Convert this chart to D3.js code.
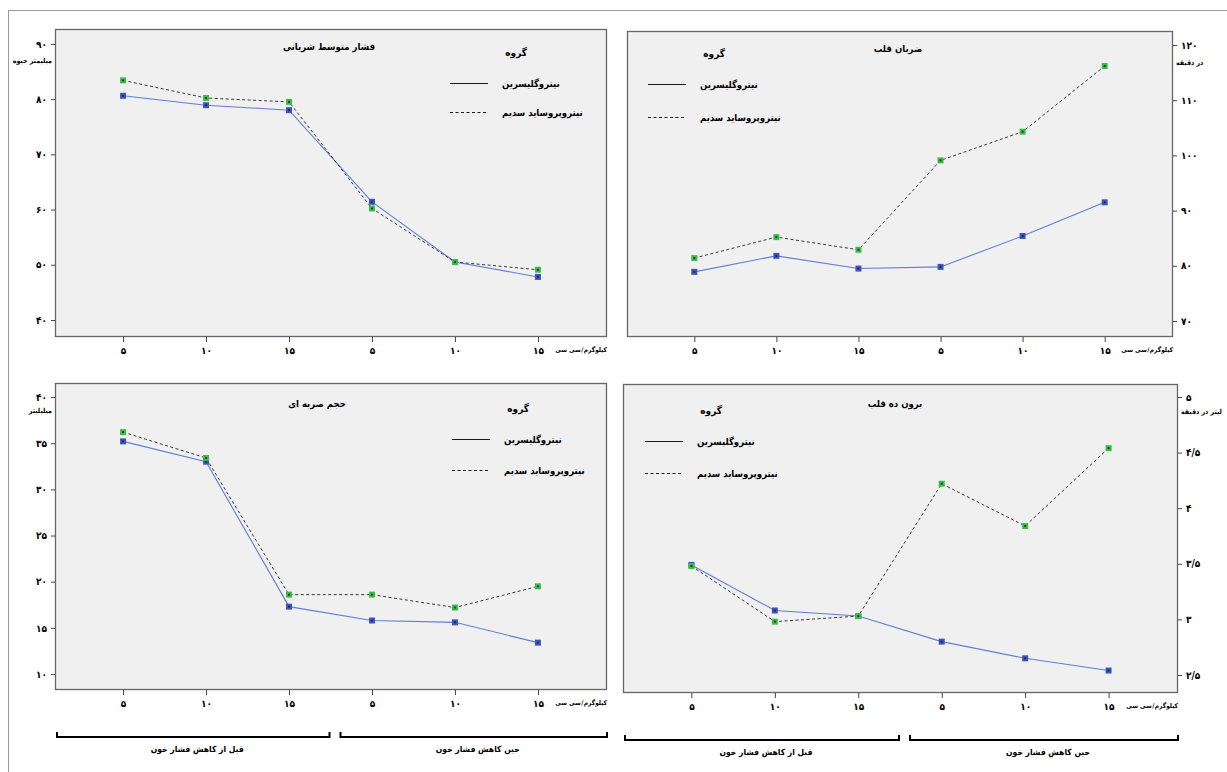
<!DOCTYPE html>
<html>
<head>
<meta charset="utf-8">
<script src="https://cdn.jsdelivr.net/npm/d3@7"></script>
<style>
  body { margin: 0; background: #fff; }
  svg text { font-family: "DejaVu Sans Condensed", "DejaVu Sans", sans-serif; font-weight: bold; fill: #000; }
</style>
</head>
<body>
<div id="chart"></div>
<script>
// ---- data ----
const doseLabels = ["۵", "۱۰", "۱۵", "۵", "۱۰", "۱۵"];
const phaseLabels = ["قبل از کاهش فشار خون", "حین کاهش فشار خون"];
const seriesNames = ["نیتروگلیسرین", "نیتروپروساید سدیم"];
const legendTitle = "گروه";
// dose unit words, in reading order (right to left on the page)
const doseUnitParts = ["کیلوگرم", "/", "سی سی"];

const mapNTG = [80.6, 78.9, 78.0, 61.4, 50.5, 47.8];
const mapSNP = [83.4, 80.2, 79.5, 60.2, 50.5, 49.1];
const hrNTG = [78.9, 81.8, 79.5, 79.8, 85.4, 91.5];
const hrSNP = [81.4, 85.2, 82.9, 99.1, 104.3, 116.2];
const svNTG = [35.2, 33.0, 17.3, 15.8, 15.6, 13.4];
const svSNP = [36.2, 33.4, 18.6, 18.6, 17.2, 19.5];
const coNTG = [3.49, 3.08, 3.03, 2.80, 2.65, 2.54];
const coSNP = [3.48, 2.98, 3.03, 4.22, 3.84, 4.54];

const mapTicks = [40, 50, 60, 70, 80, 90];
const hrTicks = [70, 80, 90, 100, 110, 120];
const svTicks = [10, 15, 20, 25, 30, 35, 40];
const coTicks = [2.5, 3, 3.5, 4, 4.5, 5];

// ---- helpers ----
const faDigits = "۰۱۲۳۴۵۶۷۸۹";
const toFa = v => String(v).replace(/\./g, "/").replace(/\d/g, c => faDigits[+c]);

const width = 1227, height = 772;
const svg = d3.select("#chart").append("svg")
  .attr("width", width).attr("height", height);

// outer frame lines (cropped border)
svg.append("line").attr("x1", 8.5).attr("x2", 8.5).attr("y1", 10).attr("y2", height)
  .attr("stroke", "#999");
svg.append("line").attr("x1", 8).attr("x2", width).attr("y1", 10.5).attr("y2", 10.5)
  .attr("stroke", "#999");

const panels = [
  { title: "فشار متوسط شریانی", unit: "میلیمتر جیوه", ntg: mapNTG, snp: mapSNP, ticks: mapTicks,
    frame: [55, 29, 606, 336], domain: [37.1, 92.7], side: "left",
    titleX: 329, titleY: 50, legX: 450, legY: 56, legGap: 29, unitY: 63, brackets: false },
  { title: "ضربان قلب", unit: "در دقیقه", ntg: hrNTG, snp: hrSNP, ticks: hrTicks,
    frame: [627, 31, 1172, 336], domain: [67.28, 122.54], side: "right",
    titleX: 898, titleY: 52, legX: 648, legY: 57, legGap: 33, unitY: 65, brackets: false },
  { title: "حجم ضربه ای", unit: "میلیلیتر", ntg: svNTG, snp: svSNP, ticks: svTicks,
    frame: [55, 383, 606, 689], domain: [8.38, 41.52], side: "left",
    titleX: 317, titleY: 407, legX: 452, legY: 412, legGap: 31, unitY: 413, brackets: true },
  { title: "برون ده قلب", unit: "لیتر در دقیقه", ntg: coNTG, snp: coSNP, ticks: coTicks,
    frame: [623, 384, 1177, 692], domain: [2.347, 5.117], side: "right",
    titleX: 895, titleY: 407, legX: 645, legY: 414, legGap: 32, unitY: 414, brackets: true }
];

panels.forEach(p => {
  const [x0, y0, x1, y1] = p.frame;
  const g = svg.append("g");

  const x = d3.scalePoint().domain(d3.range(doseLabels.length)).range([x0, x1]).padding(0.82);
  const y = d3.scaleLinear().domain(p.domain).range([y1, y0]);

  g.append("rect")
    .attr("x", x0 + 0.5).attr("y", y0 + 0.5)
    .attr("width", x1 - x0).attr("height", y1 - y0)
    .attr("fill", "#f0f0f0").attr("stroke", "#666").attr("stroke-width", 1.3);

  // y axis
  const yAxis = (p.side === "left" ? d3.axisLeft(y) : d3.axisRight(y))
    .tickValues(p.ticks).tickSize(4).tickPadding(4).tickFormat(toFa);
  const ya = g.append("g")
    .attr("transform", `translate(${p.side === "left" ? x0 : x1 + 1},0)`)
    .call(yAxis);
  ya.select(".domain").remove();
  ya.selectAll("line").attr("stroke", "#444");
  ya.selectAll("text").attr("font-size", 10);

  // x axis
  const xAxis = d3.axisBottom(x).tickSize(5).tickPadding(5).tickFormat(i => doseLabels[i]);
  const xa = g.append("g").attr("transform", `translate(0,${y1 + 1})`).call(xAxis);
  xa.select(".domain").remove();
  xa.selectAll("line").attr("stroke", "#444");
  xa.selectAll("text").attr("font-size", 10);

  // dose unit: laid out piece by piece from the right edge leftwards
  let ux = x1 + 1;
  doseUnitParts.forEach(part => {
    const t = g.append("text")
      .attr("x", ux).attr("y", y1 + 16)
      .attr("text-anchor", "end").attr("font-size", 6.5).attr("font-weight", "normal")
      .text(part);
    ux -= t.node().getComputedTextLength() + 0.5;
  });

  // y unit
  g.append("text")
    .attr("x", p.side === "left" ? x0 - 3 : x1 + 4)
    .attr("y", p.unitY)
    .attr("text-anchor", p.side === "left" ? "end" : "start")
    .attr("font-size", 7)
    .text(p.unit);

  // title
  g.append("text").attr("x", p.titleX).attr("y", p.titleY)
    .attr("text-anchor", "middle").attr("font-size", 9.5).text(p.title);

  // legend
  const lg = g.append("g").attr("transform", `translate(${p.legX},${p.legY})`);
  lg.append("text").attr("x", 77).attr("y", 0).attr("text-anchor", "end")
    .attr("font-size", 10).text(legendTitle);
  [0, 1].forEach(k => {
    const ly = 27 + k * p.legGap;
    lg.append("line").attr("x1", 0).attr("x2", 38).attr("y1", ly + 0.5).attr("y2", ly + 0.5)
      .attr("stroke", "#000").attr("stroke-width", 0.9)
      .attr("stroke-dasharray", k === 0 ? null : "3,2.5");
    lg.append("text").attr("x", 52).attr("y", ly + 4)
      .attr("font-size", 9.5).text(seriesNames[k]);
  });

  // lines
  const line = d3.line().x((d, i) => x(i)).y(d => y(d));
  g.append("path").datum(p.ntg).attr("d", line)
    .attr("fill", "none").attr("stroke", "#5f7fd6").attr("stroke-width", 1.1);
  g.append("path").datum(p.snp).attr("d", line)
    .attr("fill", "none").attr("stroke", "#222").attr("stroke-width", 0.9)
    .attr("stroke-dasharray", "3,2.5");

  // markers
  [[p.ntg, "#3f55b8", "#1a2a70"], [p.snp, "#3dbb4a", "#1d4a20"]].forEach(([vals, fill, dot]) => {
    const m = g.append("g").selectAll("g").data(vals).enter().append("g")
      .attr("transform", (d, i) => `translate(${x(i)},${y(d)})`);
    m.append("rect").attr("x", -3).attr("y", -3).attr("width", 6).attr("height", 6)
      .attr("fill", fill);
    m.append("rect").attr("x", -1).attr("y", -1).attr("width", 2).attr("height", 2)
      .attr("fill", dot);
  });

  // phase brackets
  if (p.brackets) {
    const mid = (x(2) + x(3)) / 2;
    const spans = [[x0 + 2, mid - 1], [mid + 10, x1 + 1]];
    spans.forEach(([a, b], k) => {
      g.append("path")
        .attr("d", `M${a},${y1 + 43}V${y1 + 48}H${b}V${y1 + 43}`)
        .attr("fill", "none").attr("stroke", "#000").attr("stroke-width", 2);
      g.append("text").attr("x", (a + b) / 2 + 4).attr("y", y1 + 63)
        .attr("text-anchor", "middle").attr("font-size", 8.5).text(phaseLabels[k]);
    });
  }
});
</script>
</body>
</html>
